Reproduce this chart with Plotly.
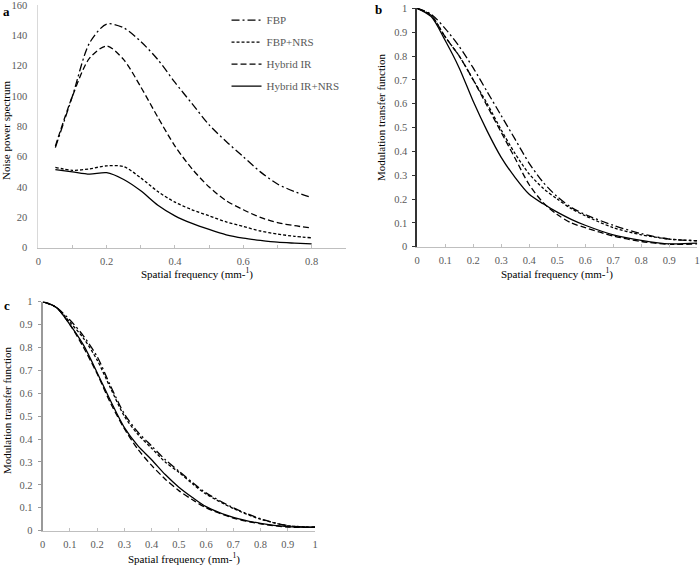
import plotly.graph_objects as go

# ---------- Data ----------
series_names = ["FBP", "FBP+NRS", "Hybrid IR", "Hybrid IR+NRS"]

# Panel a: noise power spectrum
nps_freq = [0.05, 0.10, 0.15, 0.20, 0.25, 0.30, 0.35, 0.40, 0.45, 0.50, 0.55, 0.60, 0.65, 0.70, 0.75, 0.80]
nps_fbp = [66, 100, 135, 147.5, 145, 136, 124, 109, 95, 81, 70, 60, 50, 42, 37, 33]
nps_fbp_nrs = [53, 51, 52, 54, 53.5, 46, 37, 30, 25, 21, 17, 14, 11, 9, 7.5, 6.5]
nps_hir = [67, 100, 125, 133, 124, 106, 86, 67, 52, 40, 31, 25, 20, 16.5, 14.5, 13]
nps_hir_nrs = [51.5, 50, 48.5, 49.5, 45, 37.5, 28, 21, 16, 12, 8.5, 6.3, 4.8, 3.6, 3, 2.5]

# Panel b: MTF
mtf_freq = [0, 0.05, 0.10, 0.15, 0.20, 0.25, 0.30, 0.35, 0.40, 0.45, 0.50, 0.55, 0.60, 0.70, 0.80, 0.90, 1.00]
b_fbp = [1, 0.975, 0.915, 0.84, 0.75, 0.65, 0.55, 0.45, 0.35, 0.27, 0.21, 0.165, 0.135, 0.09, 0.055, 0.032, 0.025]
b_fbp_nrs = [1, 0.97, 0.88, 0.80, 0.70, 0.60, 0.49, 0.39, 0.305, 0.245, 0.20, 0.16, 0.13, 0.08, 0.05, 0.032, 0.025]
b_hir = [1, 0.97, 0.88, 0.80, 0.70, 0.59, 0.48, 0.37, 0.26, 0.185, 0.135, 0.10, 0.08, 0.045, 0.022, 0.01, 0.012]
b_hir_nrs = [1, 0.965, 0.865, 0.75, 0.61, 0.485, 0.375, 0.29, 0.22, 0.18, 0.145, 0.115, 0.09, 0.05, 0.027, 0.012, 0.015]

# Panel c: MTF
c_fbp = [1, 0.975, 0.92, 0.85, 0.76, 0.63, 0.51, 0.43, 0.37, 0.31, 0.26, 0.21, 0.165, 0.10, 0.052, 0.022, 0.015]
c_fbp_nrs = [1, 0.975, 0.91, 0.84, 0.745, 0.62, 0.50, 0.42, 0.36, 0.30, 0.255, 0.205, 0.16, 0.097, 0.05, 0.022, 0.015]
c_hir = [1, 0.975, 0.90, 0.80, 0.685, 0.555, 0.445, 0.355, 0.285, 0.225, 0.175, 0.135, 0.10, 0.055, 0.03, 0.016, 0.015]
c_hir_nrs = [1, 0.975, 0.90, 0.81, 0.69, 0.565, 0.45, 0.37, 0.31, 0.245, 0.19, 0.145, 0.105, 0.058, 0.032, 0.018, 0.015]

nps_ticks = [0, 0.2, 0.4, 0.6, 0.8]
nps_ticklabels = ["0", "0.2", "0.4", "0.6", "0.8"]
mtf_ticks = [0, 0.1, 0.2, 0.3, 0.4, 0.5, 0.6, 0.7, 0.8, 0.9, 1]
mtf_ticklabels = ["0", "0.1", "0.2", "0.3", "0.4", "0.5", "0.6", "0.7", "0.8", "0.9", "1"]

# ---------- Styles ----------
FONT = "Liberation Serif"
dashes = ["8px,3px,2px,3px", "3px,2px", "6px,3px", "solid"]
TICKC = "#595959"
LIGHT = "#bfbfbf"

fig = go.Figure()

def add_panel(x, ys, xa, ya, show):
    for i, (name, y) in enumerate(zip(series_names, ys)):
        fig.add_trace(go.Scatter(
            x=x, y=y, mode="lines", name=name, showlegend=show,
            legendgroup=name,
            line=dict(color="black", width=1.3, dash=dashes[i], shape="spline", smoothing=0.8),
            xaxis=xa, yaxis=ya, hoverinfo="skip"))

add_panel(nps_freq, [nps_fbp, nps_fbp_nrs, nps_hir, nps_hir_nrs], "x", "y", True)
add_panel(mtf_freq, [b_fbp, b_fbp_nrs, b_hir, b_hir_nrs], "x2", "y2", False)
add_panel(mtf_freq, [c_fbp, c_fbp_nrs, c_hir, c_hir_nrs], "x3", "y3", False)

tickfont = dict(family=FONT, size=10.5, color=TICKC)

def xaxis_cfg(domain, rng, tv, tt, anchor, minor=None):
    cfg = dict(domain=domain, range=rng, tickvals=tv, ticktext=tt,
               showgrid=False, zeroline=False, showline=True, linecolor=LIGHT, linewidth=1,
               ticks="inside", ticklen=3, tickcolor=LIGHT, tickfont=tickfont,
               ticklabelstandoff=4, anchor=anchor, automargin=False,
               ticklabeloverflow="allow")
    if minor:
        cfg["minor"] = minor
    return cfg

fig.update_layout(
    width=700, height=566,
    margin=dict(l=0, r=0, t=0, b=0, autoexpand=False),
    paper_bgcolor="white", plot_bgcolor="white",
    font=dict(family=FONT, color="black"),
    xaxis=xaxis_cfg([0.0547, 0.494], [0, 0.9], nps_ticks, nps_ticklabels, "y",
                    minor=dict(dtick=0.1, tick0=0, ticks="inside", ticklen=3,
                               tickcolor=LIGHT, showgrid=False)),
    yaxis=dict(domain=[0.5624, 0.9910], range=[0, 160], dtick=20,
               showgrid=False, zeroline=False, showline=True, linecolor="#d9d9d9", linewidth=1,
               tickfont=tickfont, anchor="x", ticks="", ticklabelstandoff=8, automargin=False,
               ticklabeloverflow="allow"),
    xaxis2=xaxis_cfg([0.596, 0.996], [0, 1], mtf_ticks, mtf_ticklabels, "y2"),
    yaxis2=dict(domain=[0.5641, 0.9853], range=[0, 1], dtick=0.1,
                showgrid=False, zeroline=False, showline=True, linecolor="#333333", linewidth=1.5,
                ticks="outside", ticklen=3, tickcolor="#333333", tickfont=tickfont, anchor="x2",
                ticklabelstandoff=3, automargin=False, ticklabeloverflow="allow"),
    xaxis3=xaxis_cfg([0.061, 0.45], [0, 1], mtf_ticks, mtf_ticklabels, "y3"),
    yaxis3=dict(domain=[0.0624, 0.467], range=[0, 1], dtick=0.1,
                showgrid=False, zeroline=False, showline=True, linecolor="#999999", linewidth=2,
                ticks="outside", ticklen=3, tickcolor="#999999", tickfont=tickfont, anchor="x3",
                ticklabelstandoff=3, automargin=False, ticklabeloverflow="allow"),
    legend=dict(x=0.3236, y=0.990, xanchor="left", yanchor="top",
                font=dict(family=FONT, size=11, color=TICKC), bgcolor="rgba(0,0,0,0)",
                traceorder="grouped", tracegroupgap=3, itemwidth=30),
    showlegend=True,
)

xtitle = "Spatial frequency (mm-<sup>1</sup>)"
annos = [
    dict(text="<b>a</b>", x=6, y=11),
    dict(text="<b>b</b>", x=378, y=9),
    dict(text="<b>c</b>", x=7, y=305),
    dict(text=xtitle, x=197, y=273),
    dict(text=xtitle, x=557, y=273),
    dict(text=xtitle, x=184, y=558),
    dict(text="Noise power spectrum", x=6, y=131, textangle=-90),
    dict(text="Modulation transfer function", x=381, y=117, textangle=-90),
    dict(text="Modulation transfer function", x=7, y=410, textangle=-90),
]
for a in annos:
    size = 13 if a["text"].startswith("<b>") else 11
    fig.add_annotation(text=a["text"], x=a["x"] / 700, y=1 - a["y"] / 566,
                       xref="paper", yref="paper", showarrow=False,
                       textangle=a.get("textangle", 0),
                       font=dict(family=FONT, size=size, color="black"),
                       xanchor="center", yanchor="middle")

fig.write_html("out.html",
               config={"displayModeBar": False},
               post_script="document.body.style.margin='0';document.body.style.padding='0';"
                           "document.documentElement.style.overflow='hidden';")
